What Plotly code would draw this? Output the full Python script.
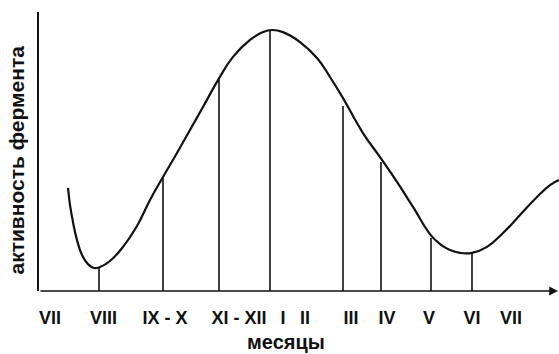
import plotly.graph_objects as go

# --- data ---
# time axis: arbitrary units along the month axis; activity: % of maximum
curve_t = [2.9, 3.1, 3.4, 3.8, 4.3, 4.9, 5.5, 6.1, 7.1, 8.4, 9.8, 11.1, 12.4, 13.8,
           15.1, 16.4, 17.9, 19.4, 21.1, 22.4, 23.3, 24.4, 26.1, 27.8, 29.1, 30.4,
           32.4, 34.1, 35.8, 37.4, 39.2, 40.1, 41.1, 42.1, 43.3, 44.8, 46.4, 48.1,
           49.8, 51.1, 52.0]
curve_activity = [39.5, 33.0, 26.4, 19.5, 13.8, 10.3, 8.8, 9.2, 11.5, 16.9, 24.9, 34.9,
                  43.7, 52.9, 61.7, 70.5, 80.8, 89.7, 96.2, 99.2, 100.0, 99.2, 95.4,
                  89.3, 82.0, 73.9, 60.5, 51.3, 41.8, 32.2, 21.3, 18.0, 15.7, 14.6,
                  14.6, 16.9, 22.2, 29.1, 36.0, 40.6, 42.5]

marker_t = [6.0, 12.4, 18.0, 23.1, 30.4, 34.2, 39.2, 43.3]
marker_activity = [8.8, 43.3, 81.0, 100.0, 70.9, 49.4, 20.3, 14.6]

month_labels = ["VII", "VIII", "IX - X", "XI - XII", "I", "II", "III", "IV", "V", "VI", "VII"]
month_label_t = [1.1, 6.45, 12.6, 20.0, 24.4, 26.6, 31.2, 34.8, 39.0, 43.3, 47.2]

x_title = "месяцы"
y_title = "активность фермента"

FONT = "Liberation Sans, Arial, Helvetica, sans-serif"
INK = "#111111"

# vertical drop lines built from the marker arrays
vx, vy = [], []
for t, a in zip(marker_t, marker_activity):
    vx += [t, t, None]
    vy += [0, a, None]

fig = go.Figure()
fig.add_trace(go.Scatter(x=vx, y=vy, mode="lines",
                         line=dict(color=INK, width=1.6),
                         hoverinfo="skip", showlegend=False))
fig.add_trace(go.Scatter(x=curve_t, y=curve_activity, mode="lines",
                         line=dict(color=INK, width=2.2, shape="spline", smoothing=1.3),
                         showlegend=False, cliponaxis=False))

# x axis line with arrow
fig.add_annotation(x=51.9, y=0, ax=0, ay=0, xref="x", yref="y", axref="x", ayref="y",
                   text="", showarrow=True, arrowhead=2, arrowsize=1.1,
                   arrowwidth=1.6, arrowcolor=INK)

fig.add_annotation(text="<b>" + x_title + "</b>", xref="x", yref="paper",
                   x=24.7, y=-0.183, showarrow=False, xanchor="center", yanchor="middle",
                   font=dict(family=FONT, size=20, color=INK))
fig.add_annotation(text="<b>" + y_title + "</b>", xref="paper", yref="paper",
                   x=-0.043, y=0.47, showarrow=False, textangle=-90,
                   xanchor="center", yanchor="middle",
                   font=dict(family=FONT, size=21, color=INK))

fig.update_layout(
    width=559, height=354,
    margin=dict(l=39, r=0, t=12, b=63, autoexpand=False),
    paper_bgcolor="white", plot_bgcolor="white",
    xaxis=dict(range=[0, 52], showgrid=False, zeroline=False, showline=False,
               automargin=False,
               tickmode="array", tickvals=month_label_t,
               ticktext=["<b>" + s + "</b>" for s in month_labels],
               ticks="", ticklabelstandoff=14,
               tickfont=dict(family=FONT, size=18, color=INK), fixedrange=True),
    yaxis=dict(range=[0, 106.9], showgrid=False, zeroline=False, automargin=False,
               showline=True, linecolor=INK, linewidth=1.6,
               showticklabels=False, ticks="", fixedrange=True),
    showlegend=False,
)

fig.write_html("out.html", config={"displayModeBar": False},
               post_script="document.body.style.margin='0';document.body.style.overflow='hidden';")
